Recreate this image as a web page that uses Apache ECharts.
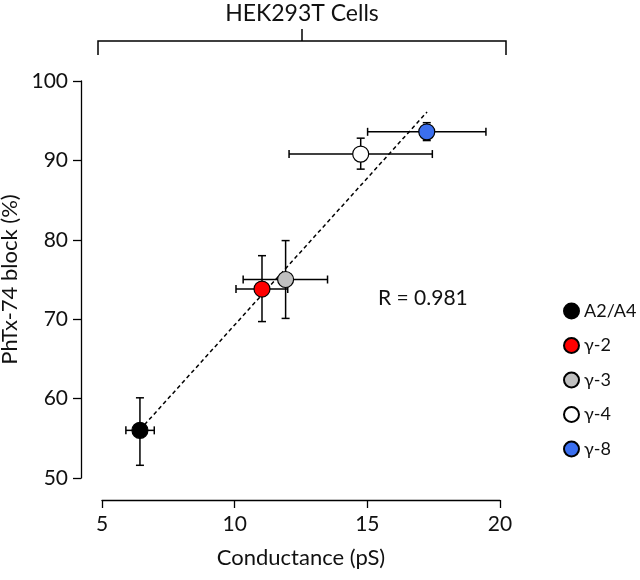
<!DOCTYPE html>
<html>
<head>
<meta charset="utf-8">
<script src="https://cdn.jsdelivr.net/npm/echarts@6/dist/echarts.min.js"></script>
<style>html,body{margin:0;padding:0;background:#fff}#c{width:640px;height:580px}</style>
</head>
<body>
<div id="c"></div>
<script>
// Data
var groupNames = ['A2/A4', 'γ-2', 'γ-3', 'γ-4', 'γ-8'];
var groupColors = ['#000000', '#ff0000', '#c0c0c0', '#ffffff', '#3b6fef'];
var conductance = [6.43, 11.03, 11.92, 14.75, 17.24];
var conductanceLo = [5.9, 10.05, 10.32, 12.05, 15.01];
var conductanceHi = [6.97, 12.0, 13.5, 17.45, 19.47];
var block = [56.0, 73.8, 75.0, 90.8, 93.6];
var blockLo = [51.6, 69.7, 70.1, 88.9, 92.5];
var blockHi = [60.1, 78.0, 79.9, 92.8, 94.75];
var fitLineX = [6.6, 17.25];
var fitLineY = [56.7, 96.1];
var xTicks = [5, 10, 15, 20];
var yTicks = [50, 60, 70, 80, 90, 100];
var rText = 'R = 0.981';
var topTitle = 'HEK293T Cells';

var FONT = 'Lato';
var chart = echarts.init(document.getElementById('c'));

var series = [];
// regression line
series.push({
  type: 'line', name: 'fit', z: 1, silent: true, symbol: 'none',
  data: fitLineX.map(function (x, i) { return [x, fitLineY[i]]; }),
  lineStyle: { color: '#000', width: 1.5, type: [4, 3] }
});
// error bars
var errData = conductance.map(function (x, i) {
  return [x, block[i], conductanceLo[i], conductanceHi[i], blockLo[i], blockHi[i]];
});
series.push({
  type: 'custom', name: 'err', z: 2, silent: true,
  data: errData,
  encode: { x: 0, y: 1 },
  renderItem: function (params, api) {
    var c = api.coord([api.value(0), api.value(1)]);
    var xl = api.coord([api.value(2), api.value(1)]);
    var xh = api.coord([api.value(3), api.value(1)]);
    var yl = api.coord([api.value(0), api.value(4)]);
    var yh = api.coord([api.value(0), api.value(5)]);
    var cap = 4;
    var st = { stroke: '#000', lineWidth: 1.5 };
    function L(x1, y1, x2, y2) { return { type: 'line', shape: { x1: x1, y1: y1, x2: x2, y2: y2 }, style: st }; }
    return {
      type: 'group', children: [
        L(xl[0], c[1], xh[0], c[1]),
        L(xl[0], c[1] - cap, xl[0], c[1] + cap),
        L(xh[0], c[1] - cap, xh[0], c[1] + cap),
        L(c[0], yl[1], c[0], yh[1]),
        L(c[0] - cap, yl[1], c[0] + cap, yl[1]),
        L(c[0] - cap, yh[1], c[0] + cap, yh[1])
      ]
    };
  }
});
groupNames.forEach(function (n, i) {
  series.push({
    type: 'scatter', name: n, z: 3,
    symbol: 'circle', symbolSize: 16,
    data: [[conductance[i], block[i]]],
    itemStyle: { color: groupColors[i], borderColor: '#000', borderWidth: 1.2, opacity: 1 }
  });
});

var option = {
  animation: false,
  backgroundColor: '#fff',
  textStyle: { fontFamily: FONT },
  grid: { left: 102, right: 140, top: 81, bottom: 102, containLabel: false, outerBoundsMode: 'none' },
  xAxis: {
    type: 'value', min: xTicks[0], max: xTicks[xTicks.length - 1], interval: 5,
    offset: 22,
    name: 'Conductance (pS)', nameLocation: 'middle', nameGap: 47,
    nameTextStyle: { fontFamily: FONT, fontSize: 22, color: '#111' },
    axisLine: { show: true, lineStyle: { color: '#000', width: 1.3 } },
    axisTick: { show: true, inside: false, length: 8, lineStyle: { color: '#000', width: 1.3 } },
    axisLabel: { fontFamily: FONT, fontSize: 21, color: '#111', margin: 14 },
    splitLine: { show: false }
  },
  yAxis: {
    type: 'value', min: yTicks[0], max: yTicks[yTicks.length - 1], interval: 10,
    offset: 21,
    name: 'PhTx-74 block (%)', nameLocation: 'middle', nameGap: 57, nameRotate: 90,
    nameTextStyle: { fontFamily: FONT, fontSize: 22, color: '#111' },
    axisLine: { show: true, lineStyle: { color: '#000', width: 1.3 } },
    axisTick: { show: true, inside: false, length: 8, lineStyle: { color: '#000', width: 1.3 } },
    axisLabel: { fontFamily: FONT, fontSize: 21, color: '#111', margin: 13 },
    splitLine: { show: false }
  },
  legend: {
    data: groupNames,
    orient: 'vertical', left: 558, top: 297,
    itemWidth: 15, itemHeight: 15, itemGap: 16.5,
    icon: 'circle',
    textStyle: { fontFamily: FONT, fontSize: 18, color: '#111' }
  },
  graphic: [
    { type: 'text', x: 302, y: 14, style: { text: topTitle, font: '23px ' + FONT, fill: '#111', align: 'center', verticalAlign: 'middle' } },
    { type: 'polyline', shape: { points: [[98, 55], [98, 41], [506, 41], [506, 55]] }, style: { stroke: '#000', lineWidth: 1.5, fill: null } },
    { type: 'line', shape: { x1: 302, y1: 41, x2: 302, y2: 29 }, style: { stroke: '#000', lineWidth: 1.5 } },
    { type: 'text', x: 378, y: 298, style: { text: rText, font: '21px ' + FONT, fill: '#111', align: 'left', verticalAlign: 'middle' } }
  ],
  series: series
};
chart.setOption(option);
</script>
</body>
</html>
